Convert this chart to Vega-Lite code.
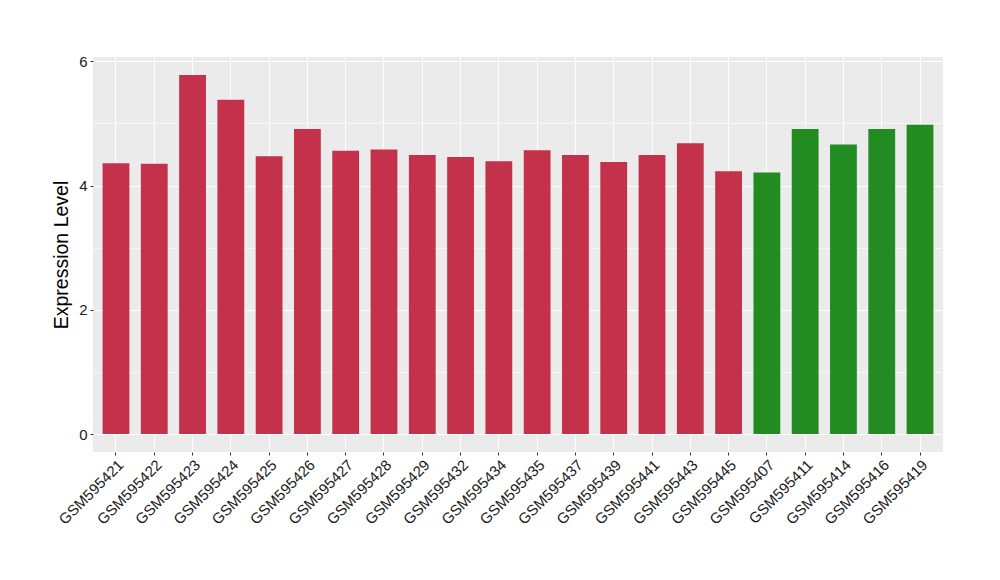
{
  "$schema": "https://vega.github.io/schema/vega-lite/v6.json",
  "width": 850,
  "height": 395,
  "autosize": {"type": "none"},
  "padding": {"left": 93, "top": 57, "right": 57, "bottom": 128},
  "background": "white",
  "config": {
    "view": {"fill": "#EBEBEB", "stroke": null},
    "font": "Liberation Sans"
  },
  "data": {
    "values": [
      {"sample": "GSM595421", "value": 4.36, "group": "A"},
      {"sample": "GSM595422", "value": 4.35, "group": "A"},
      {"sample": "GSM595423", "value": 5.78, "group": "A"},
      {"sample": "GSM595424", "value": 5.38, "group": "A"},
      {"sample": "GSM595425", "value": 4.47, "group": "A"},
      {"sample": "GSM595426", "value": 4.91, "group": "A"},
      {"sample": "GSM595427", "value": 4.56, "group": "A"},
      {"sample": "GSM595428", "value": 4.58, "group": "A"},
      {"sample": "GSM595429", "value": 4.49, "group": "A"},
      {"sample": "GSM595432", "value": 4.46, "group": "A"},
      {"sample": "GSM595434", "value": 4.39, "group": "A"},
      {"sample": "GSM595435", "value": 4.57, "group": "A"},
      {"sample": "GSM595437", "value": 4.49, "group": "A"},
      {"sample": "GSM595439", "value": 4.38, "group": "A"},
      {"sample": "GSM595441", "value": 4.49, "group": "A"},
      {"sample": "GSM595443", "value": 4.68, "group": "A"},
      {"sample": "GSM595445", "value": 4.23, "group": "A"},
      {"sample": "GSM595407", "value": 4.21, "group": "B"},
      {"sample": "GSM595411", "value": 4.91, "group": "B"},
      {"sample": "GSM595414", "value": 4.66, "group": "B"},
      {"sample": "GSM595416", "value": 4.91, "group": "B"},
      {"sample": "GSM595419", "value": 4.98, "group": "B"}
    ]
  },
  "mark": {"type": "bar"},
  "encoding": {
    "x": {
      "field": "sample",
      "type": "nominal",
      "sort": null,
      "scale": {"paddingInner": 0.3, "paddingOuter": 0.25},
      "axis": {
        "title": null,
        "bandPosition": 0.5,
        "grid": true,
        "gridColor": "white",
        "gridWidth": 1.1,
        "domain": false,
        "tickColor": "#333333",
        "tickSize": 3,
        "labelAngle": -45,
        "labelAlign": "right",
        "labelBaseline": "top",
        "labelFontSize": 15,
        "labelColor": "#1a1a1a",
        "labelPadding": 2
      }
    },
    "y": {
      "field": "value",
      "type": "quantitative",
      "scale": {"domain": [-0.289, 6.069], "nice": false, "zero": false},
      "axis": {
        "title": "Expression Level",
        "titleFontSize": 19.5,
        "titleFontWeight": "normal",
        "titleColor": "black",
        "titlePadding": 7,
        "values": [0, 1, 2, 3, 4, 5, 6],
        "labelExpr": "datum.value % 2 === 0 ? datum.label : ''",
        "labelFontSize": 15,
        "labelColor": "#1a1a1a",
        "labelPadding": 3,
        "grid": true,
        "gridColor": "white",
        "gridWidth": {"condition": {"test": "datum.value % 2 === 1", "value": 0.6}, "value": 1.1},
        "domain": false,
        "tickColor": "#333333",
        "tickSize": 3,
        "tickOpacity": {"condition": {"test": "datum.value % 2 === 1", "value": 0}, "value": 1}
      }
    },
    "color": {
      "field": "group",
      "type": "nominal",
      "scale": {"domain": ["A", "B"], "range": ["#C3314A", "#228B22"]},
      "legend": null
    }
  }
}
